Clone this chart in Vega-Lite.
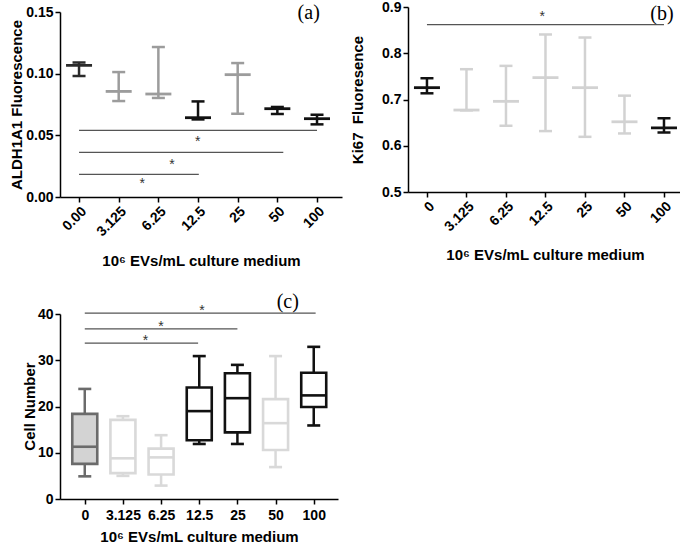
{
"$schema": "https://vega.github.io/schema/vega-lite/v6.json",
"padding": {"left": 3, "top": 0, "right": 2, "bottom": 0},
"config": {
 "view": {"stroke": null},
 "font": "Liberation Sans",
 "axis": {"grid": false, "domainColor": "#000", "domainWidth": 1.5, "tickColor": "#000", "tickWidth": 1.5, "tickSize": 5, "labelFont": "Liberation Sans", "labelFontWeight": "bold", "labelFontSize": 14, "labelColor": "#000", "titleFont": "Liberation Sans", "titleFontWeight": "bold", "titleFontSize": 15, "titleColor": "#000", "labelPadding": 2}
},
"datasets": {
 "aldh": [
  {"i":0,"d":"0.00","v":0.1067,"lo":0.0981,"hi":0.1091,"g":"ctrl"},
  {"i":1,"d":"3.125","v":0.0856,"lo":0.0778,"hi":0.1013,"g":"ns"},
  {"i":2,"d":"6.25","v":0.0835,"lo":0.0803,"hi":0.1216,"g":"ns"},
  {"i":3,"d":"12.5","v":0.0643,"lo":0.0629,"hi":0.0775,"g":"sig"},
  {"i":4,"d":"25","v":0.0992,"lo":0.0675,"hi":0.1086,"g":"ns"},
  {"i":5,"d":"50","v":0.0716,"lo":0.0673,"hi":0.073,"g":"sig"},
  {"i":6,"d":"100","v":0.0635,"lo":0.0589,"hi":0.0667,"g":"sig"}
 ],
 "aldhSig": [{"i":0,"i2":6,"v":0.054},{"i":0,"i2":5.15,"v":0.0362},{"i":0,"i2":3.02,"v":0.0184}],
 "aldhStar": [{"i":2.99,"v":0.0478,"t":"*"},{"i":2.34,"v":0.0292,"t":"*"},{"i":1.59,"v":0.0135,"t":"*"}],
 "aldhLab": [{"i":5.79,"v":0.149,"t":"(a)"}],
 "ki67": [
  {"i":0,"d":"0","v":0.7256,"lo":0.7134,"hi":0.746,"g":"ctrl"},
  {"i":1,"d":"3.125","v":0.6772,"lo":0.6765,"hi":0.7655,"g":"ns"},
  {"i":2,"d":"6.25","v":0.696,"lo":0.6432,"hi":0.7727,"g":"ns"},
  {"i":3,"d":"12.5","v":0.7473,"lo":0.6317,"hi":0.8406,"g":"ns"},
  {"i":4,"d":"25","v":0.7256,"lo":0.6193,"hi":0.834,"g":"ns"},
  {"i":5,"d":"50","v":0.6518,"lo":0.6266,"hi":0.7083,"g":"ns"},
  {"i":6,"d":"100","v":0.6388,"lo":0.6288,"hi":0.6592,"g":"sig"}
 ],
 "kiSig": [{"i":0,"i2":6,"v":0.8617}],
 "kiStar": [{"i":2.92,"v":0.887,"t":"*"}],
 "kiLab": [{"i":5.95,"v":0.8855,"t":"(b)"}],
 "cells": [
  {"i":0,"d":"0","mn":4.9,"q1":7.6,"md":11.3,"q3":18.4,"mx":23.8,"g":"ctrl"},
  {"i":1,"d":"3.125","mn":5.0,"q1":5.6,"md":8.8,"q3":17.1,"mx":17.9,"g":"ns"},
  {"i":2,"d":"6.25","mn":2.9,"q1":5.3,"md":9.0,"q3":10.9,"mx":13.8,"g":"ns"},
  {"i":3,"d":"12.5","mn":11.9,"q1":12.7,"md":19.0,"q3":24.1,"mx":30.9,"g":"sig"},
  {"i":4,"d":"25","mn":11.9,"q1":14.4,"md":21.8,"q3":27.2,"mx":29.0,"g":"sig"},
  {"i":5,"d":"50","mn":6.9,"q1":10.6,"md":16.4,"q3":21.6,"mx":30.9,"g":"ns"},
  {"i":6,"d":"100","mn":15.9,"q1":19.9,"md":22.4,"q3":27.3,"mx":32.9,"g":"sig"}
 ],
 "cSig": [{"i":0,"i2":6.05,"v":40.2},{"i":0,"i2":4,"v":36.8},{"i":0,"i2":2.97,"v":33.7}],
 "cStar": [{"i":3.07,"v":41.6,"t":"*"},{"i":2.0,"v":38.0,"t":"*"},{"i":1.59,"v":35.1,"t":"*"}],
 "cLab": [{"i":5.32,"v":42.7,"t":"(c)"}]
},
"resolve": {"scale": {"color": "independent", "fill": "independent", "stroke": "independent"}},
"spacing": 22,
"vconcat": [
 {
  "resolve": {"scale": {"color": "independent"}},
  "spacing": 8,
  "hconcat": [
   {
    "width": 282, "height": 190,
    "layer": [
     {"data": {"name": "aldhSig"}, "mark": {"type": "rule", "color": "#555", "strokeWidth": 1.2},
      "encoding": {
       "x": {"field": "i", "type": "quantitative", "scale": {"domain": [-0.48, 6.63], "nice": false, "zero": false}, "title": "10⁶ EVs/mL culture medium",
             "axis": {"values": [0,1,2,3,4,5,6], "labelExpr": "['0.00','3.125','6.25','12.5','25','50','100'][datum.value]", "labelAngle": -45, "labelFontSize": 14, "labelOverlap": false, "labelFlush": false, "titlePadding": 15}},
       "x2": {"field": "i2"},
       "y": {"field": "v", "type": "quantitative", "scale": {"domain": [0, 0.15], "range": [190, 5], "nice": false, "zero": false}, "title": "ALDH1A1 Fluorescence",
             "axis": {"values": [0, 0.05, 0.1, 0.15], "format": ".2f", "titlePadding": 1}}
      }},
     {"data": {"name": "aldhStar"}, "mark": {"type": "text", "font": "Liberation Sans", "fontSize": 14, "fill": "#333", "dy": 4},
      "encoding": {
       "x": {"field": "i", "type": "quantitative", "scale": {"domain": [-0.48, 6.63], "nice": false, "zero": false}, "title": "10⁶ EVs/mL culture medium"},
       "y": {"field": "v", "type": "quantitative", "scale": {"domain": [0, 0.15], "range": [190, 5], "nice": false, "zero": false}, "title": "ALDH1A1 Fluorescence"},
       "text": {"field": "t"}
      }},
     {"data": {"name": "aldhLab"}, "mark": {"type": "text", "font": "Liberation Serif", "fontSize": 20, "fill": "#000"},
      "encoding": {
       "x": {"field": "i", "type": "quantitative", "scale": {"domain": [-0.48, 6.63], "nice": false, "zero": false}, "title": "10⁶ EVs/mL culture medium"},
       "y": {"field": "v", "type": "quantitative", "scale": {"domain": [0, 0.15], "range": [190, 5], "nice": false, "zero": false}, "title": "ALDH1A1 Fluorescence"},
       "text": {"field": "t"}
      }},
     {"data": {"name": "aldh"}, "mark": {"type": "rule", "strokeWidth": 2.5},
      "encoding": {
       "x": {"field": "i", "type": "quantitative", "scale": {"domain": [-0.48, 6.63], "nice": false, "zero": false}, "title": "10⁶ EVs/mL culture medium"},
       "y": {"field": "lo", "type": "quantitative", "scale": {"domain": [0, 0.15], "range": [190, 5], "nice": false, "zero": false}, "title": "ALDH1A1 Fluorescence"},
       "y2": {"field": "hi"},
       "color": {"field": "g", "type": "nominal", "scale": {"domain": ["ctrl","ns","sig"], "range": ["#2b2b2b","#9c9c9c","#111111"]}, "legend": null}
      }},
     {"data": {"name": "aldh"}, "mark": {"type": "tick", "orient": "horizontal", "size": 13, "thickness": 2.5, "opacity": 1},
      "encoding": {
       "x": {"field": "i", "type": "quantitative", "scale": {"domain": [-0.48, 6.63], "nice": false, "zero": false}, "title": "10⁶ EVs/mL culture medium"},
       "y": {"field": "lo", "type": "quantitative", "scale": {"domain": [0, 0.15], "range": [190, 5], "nice": false, "zero": false}, "title": "ALDH1A1 Fluorescence"},
       "color": {"field": "g", "type": "nominal", "scale": {"domain": ["ctrl","ns","sig"], "range": ["#2b2b2b","#9c9c9c","#111111"]}, "legend": null}
      }},
     {"data": {"name": "aldh"}, "mark": {"type": "tick", "orient": "horizontal", "size": 13, "thickness": 2.5, "opacity": 1},
      "encoding": {
       "x": {"field": "i", "type": "quantitative", "scale": {"domain": [-0.48, 6.63], "nice": false, "zero": false}, "title": "10⁶ EVs/mL culture medium"},
       "y": {"field": "hi", "type": "quantitative", "scale": {"domain": [0, 0.15], "range": [190, 5], "nice": false, "zero": false}, "title": "ALDH1A1 Fluorescence"},
       "color": {"field": "g", "type": "nominal", "scale": {"domain": ["ctrl","ns","sig"], "range": ["#2b2b2b","#9c9c9c","#111111"]}, "legend": null}
      }},
     {"data": {"name": "aldh"}, "mark": {"type": "tick", "orient": "horizontal", "size": 26, "thickness": 2.8, "opacity": 1},
      "encoding": {
       "x": {"field": "i", "type": "quantitative", "scale": {"domain": [-0.48, 6.63], "nice": false, "zero": false}, "title": "10⁶ EVs/mL culture medium"},
       "y": {"field": "v", "type": "quantitative", "scale": {"domain": [0, 0.15], "range": [190, 5], "nice": false, "zero": false}, "title": "ALDH1A1 Fluorescence"},
       "color": {"field": "g", "type": "nominal", "scale": {"domain": ["ctrl","ns","sig"], "range": ["#2b2b2b","#9c9c9c","#111111"]}, "legend": null}
      }}
    ]
   },
   {
    "width": 274, "height": 185,
    "layer": [
     {"data": {"name": "kiSig"}, "mark": {"type": "rule", "color": "#555", "strokeWidth": 1.2},
      "encoding": {
       "x": {"field": "i", "type": "quantitative", "scale": {"domain": [-0.48, 6.456], "nice": false, "zero": false}, "title": "10⁶ EVs/mL culture medium",
             "axis": {"values": [0,1,2,3,4,5,6], "labelExpr": "['0','3.125','6.25','12.5','25','50','100'][datum.value]", "labelAngle": -45, "labelFontSize": 14, "labelOverlap": false, "labelFlush": false, "titlePadding": 14}},
       "x2": {"field": "i2"},
       "y": {"field": "v", "type": "quantitative", "scale": {"domain": [0.5, 0.9], "nice": false, "zero": false}, "title": "Ki67\u00a0 Fluoresence",
             "axis": {"values": [0.5, 0.6, 0.7, 0.8, 0.9], "format": ".1f", "titlePadding": 16}}
      }},
     {"data": {"name": "kiStar"}, "mark": {"type": "text", "font": "Liberation Sans", "fontSize": 14, "fill": "#333", "dy": 4},
      "encoding": {
       "x": {"field": "i", "type": "quantitative", "scale": {"domain": [-0.48, 6.456], "nice": false, "zero": false}, "title": "10⁶ EVs/mL culture medium"},
       "y": {"field": "v", "type": "quantitative", "scale": {"domain": [0.5, 0.9], "nice": false, "zero": false}, "title": "Ki67\u00a0 Fluoresence"},
       "text": {"field": "t"}
      }},
     {"data": {"name": "kiLab"}, "mark": {"type": "text", "font": "Liberation Serif", "fontSize": 20, "fill": "#000"},
      "encoding": {
       "x": {"field": "i", "type": "quantitative", "scale": {"domain": [-0.48, 6.456], "nice": false, "zero": false}, "title": "10⁶ EVs/mL culture medium"},
       "y": {"field": "v", "type": "quantitative", "scale": {"domain": [0.5, 0.9], "nice": false, "zero": false}, "title": "Ki67\u00a0 Fluoresence"},
       "text": {"field": "t"}
      }},
     {"data": {"name": "ki67"}, "mark": {"type": "rule", "strokeWidth": 2.5},
      "encoding": {
       "x": {"field": "i", "type": "quantitative", "scale": {"domain": [-0.48, 6.456], "nice": false, "zero": false}, "title": "10⁶ EVs/mL culture medium"},
       "y": {"field": "lo", "type": "quantitative", "scale": {"domain": [0.5, 0.9], "nice": false, "zero": false}, "title": "Ki67\u00a0 Fluoresence"},
       "y2": {"field": "hi"},
       "color": {"field": "g", "type": "nominal", "scale": {"domain": ["ctrl","ns","sig"], "range": ["#111111","#d2d2d2","#111111"]}, "legend": null}
      }},
     {"data": {"name": "ki67"}, "mark": {"type": "tick", "orient": "horizontal", "size": 13, "thickness": 2.5, "opacity": 1},
      "encoding": {
       "x": {"field": "i", "type": "quantitative", "scale": {"domain": [-0.48, 6.456], "nice": false, "zero": false}, "title": "10⁶ EVs/mL culture medium"},
       "y": {"field": "lo", "type": "quantitative", "scale": {"domain": [0.5, 0.9], "nice": false, "zero": false}, "title": "Ki67\u00a0 Fluoresence"},
       "color": {"field": "g", "type": "nominal", "scale": {"domain": ["ctrl","ns","sig"], "range": ["#111111","#d2d2d2","#111111"]}, "legend": null}
      }},
     {"data": {"name": "ki67"}, "mark": {"type": "tick", "orient": "horizontal", "size": 13, "thickness": 2.5, "opacity": 1},
      "encoding": {
       "x": {"field": "i", "type": "quantitative", "scale": {"domain": [-0.48, 6.456], "nice": false, "zero": false}, "title": "10⁶ EVs/mL culture medium"},
       "y": {"field": "hi", "type": "quantitative", "scale": {"domain": [0.5, 0.9], "nice": false, "zero": false}, "title": "Ki67\u00a0 Fluoresence"},
       "color": {"field": "g", "type": "nominal", "scale": {"domain": ["ctrl","ns","sig"], "range": ["#111111","#d2d2d2","#111111"]}, "legend": null}
      }},
     {"data": {"name": "ki67"}, "mark": {"type": "tick", "orient": "horizontal", "size": 26, "thickness": 2.8, "opacity": 1},
      "encoding": {
       "x": {"field": "i", "type": "quantitative", "scale": {"domain": [-0.48, 6.456], "nice": false, "zero": false}, "title": "10⁶ EVs/mL culture medium"},
       "y": {"field": "v", "type": "quantitative", "scale": {"domain": [0.5, 0.9], "nice": false, "zero": false}, "title": "Ki67\u00a0 Fluoresence"},
       "color": {"field": "g", "type": "nominal", "scale": {"domain": ["ctrl","ns","sig"], "range": ["#111111","#d2d2d2","#111111"]}, "legend": null}
      }}
    ]
   }
  ]
 },
 {
  "width": 278, "height": 185,
  "resolve": {"scale": {"color": "independent", "fill": "independent", "stroke": "independent"}},
  "layer": [
   {"data": {"name": "cSig"}, "mark": {"type": "rule", "color": "#555", "strokeWidth": 1.2},
    "encoding": {
     "x": {"field": "i", "type": "quantitative", "scale": {"domain": [-0.518, 6.505], "nice": false, "zero": false}, "title": "10⁶ EVs/mL culture medium",
           "axis": {"values": [0,1,2,3,4,5,6], "labelExpr": "['0','3.125','6.25','12.5','25','50','100'][datum.value]", "labelAngle": 0, "labelFontSize": 14, "labelOverlap": false, "labelFlush": false, "labelPadding": 4, "titlePadding": 7}},
     "x2": {"field": "i2"},
     "y": {"field": "v", "type": "quantitative", "scale": {"domain": [0, 40], "nice": false, "zero": false}, "title": "Cell Number",
           "axis": {"values": [0, 10, 20, 30, 40], "minExtent": 57, "titleX": -23, "titleY": 92}}
    }},
   {"data": {"name": "cStar"}, "mark": {"type": "text", "font": "Liberation Sans", "fontSize": 14, "fill": "#333", "dy": 4},
    "encoding": {
     "x": {"field": "i", "type": "quantitative", "scale": {"domain": [-0.518, 6.505], "nice": false, "zero": false}, "title": "10⁶ EVs/mL culture medium"},
     "y": {"field": "v", "type": "quantitative", "scale": {"domain": [0, 40], "nice": false, "zero": false}, "title": "Cell Number"},
     "text": {"field": "t"}
    }},
   {"data": {"name": "cLab"}, "mark": {"type": "text", "font": "Liberation Serif", "fontSize": 20, "fill": "#000"},
    "encoding": {
     "x": {"field": "i", "type": "quantitative", "scale": {"domain": [-0.518, 6.505], "nice": false, "zero": false}, "title": "10⁶ EVs/mL culture medium"},
     "y": {"field": "v", "type": "quantitative", "scale": {"domain": [0, 40], "nice": false, "zero": false}, "title": "Cell Number"},
     "text": {"field": "t"}
    }},
   {"data": {"name": "cells"}, "mark": {"type": "rule", "strokeWidth": 2.5},
    "encoding": {
     "x": {"field": "i", "type": "quantitative", "scale": {"domain": [-0.518, 6.505], "nice": false, "zero": false}, "title": "10⁶ EVs/mL culture medium"},
     "y": {"field": "mn", "type": "quantitative", "scale": {"domain": [0, 40], "nice": false, "zero": false}, "title": "Cell Number"},
     "y2": {"field": "mx"},
     "color": {"field": "g", "type": "nominal", "scale": {"domain": ["ctrl","ns","sig"], "range": ["#6b6b6b","#d9d9d9","#111111"]}, "legend": null}
    }},
   {"data": {"name": "cells"}, "mark": {"type": "bar", "orient": "vertical", "size": 25, "strokeWidth": 2.6},
    "encoding": {
     "x": {"field": "i", "type": "quantitative", "scale": {"domain": [-0.518, 6.505], "nice": false, "zero": false}, "title": "10⁶ EVs/mL culture medium"},
     "y": {"field": "q1", "type": "quantitative", "scale": {"domain": [0, 40], "nice": false, "zero": false}, "title": "Cell Number"},
     "y2": {"field": "q3"},
     "fill": {"field": "g", "type": "nominal", "scale": {"domain": ["ctrl","ns","sig"], "range": ["#d3d3d3","#ffffff","#ffffff"]}, "legend": null},
     "stroke": {"field": "g", "type": "nominal", "scale": {"domain": ["ctrl","ns","sig"], "range": ["#6b6b6b","#d9d9d9","#111111"]}, "legend": null}
    }},
   {"data": {"name": "cells"}, "mark": {"type": "tick", "orient": "horizontal", "size": 25, "thickness": 2.6, "opacity": 1},
    "encoding": {
     "x": {"field": "i", "type": "quantitative", "scale": {"domain": [-0.518, 6.505], "nice": false, "zero": false}, "title": "10⁶ EVs/mL culture medium"},
     "y": {"field": "md", "type": "quantitative", "scale": {"domain": [0, 40], "nice": false, "zero": false}, "title": "Cell Number"},
     "color": {"field": "g", "type": "nominal", "scale": {"domain": ["ctrl","ns","sig"], "range": ["#6b6b6b","#d9d9d9","#111111"]}, "legend": null}
    }},
   {"data": {"name": "cells"}, "mark": {"type": "tick", "orient": "horizontal", "size": 13, "thickness": 2.6, "opacity": 1},
    "encoding": {
     "x": {"field": "i", "type": "quantitative", "scale": {"domain": [-0.518, 6.505], "nice": false, "zero": false}, "title": "10⁶ EVs/mL culture medium"},
     "y": {"field": "mn", "type": "quantitative", "scale": {"domain": [0, 40], "nice": false, "zero": false}, "title": "Cell Number"},
     "color": {"field": "g", "type": "nominal", "scale": {"domain": ["ctrl","ns","sig"], "range": ["#6b6b6b","#d9d9d9","#111111"]}, "legend": null}
    }},
   {"data": {"name": "cells"}, "mark": {"type": "tick", "orient": "horizontal", "size": 13, "thickness": 2.6, "opacity": 1},
    "encoding": {
     "x": {"field": "i", "type": "quantitative", "scale": {"domain": [-0.518, 6.505], "nice": false, "zero": false}, "title": "10⁶ EVs/mL culture medium"},
     "y": {"field": "mx", "type": "quantitative", "scale": {"domain": [0, 40], "nice": false, "zero": false}, "title": "Cell Number"},
     "color": {"field": "g", "type": "nominal", "scale": {"domain": ["ctrl","ns","sig"], "range": ["#6b6b6b","#d9d9d9","#111111"]}, "legend": null}
    }}
  ]
 }
]
}
